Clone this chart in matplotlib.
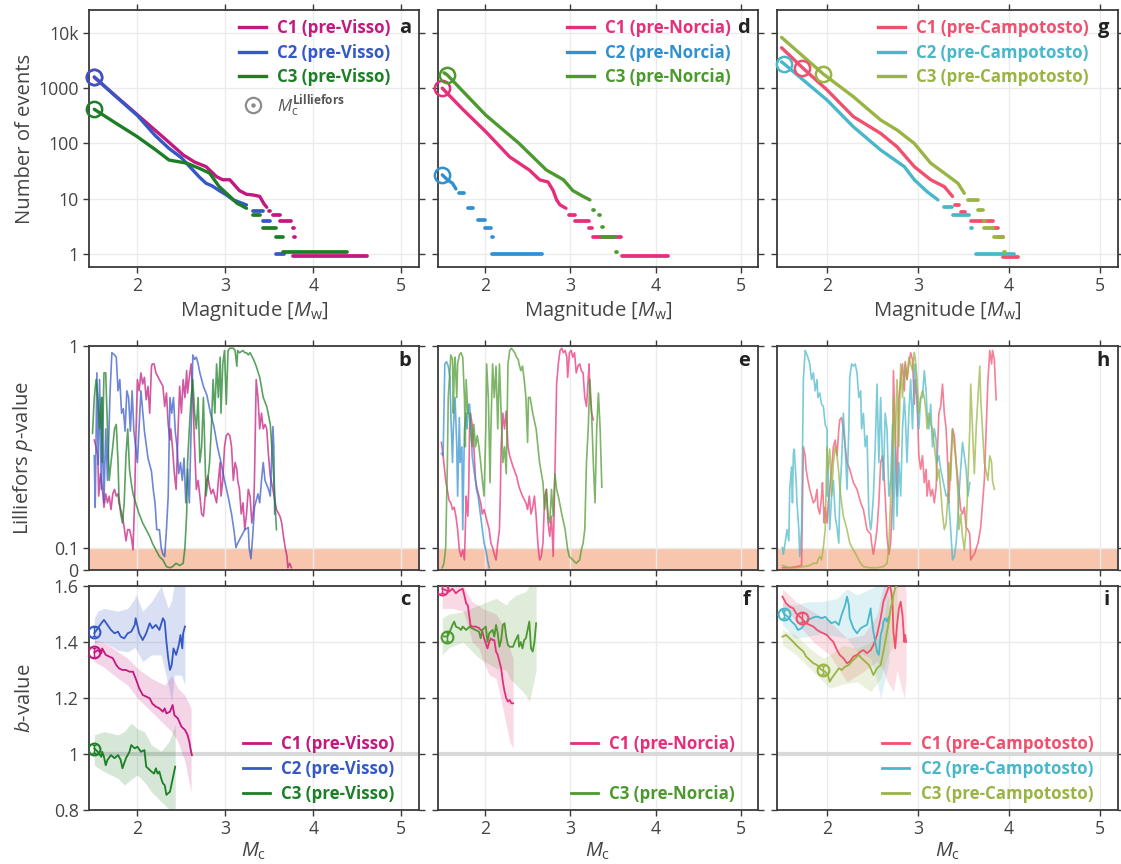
import matplotlib

matplotlib.use("Agg")
import matplotlib.pyplot as plt
from matplotlib.lines import Line2D
from matplotlib.ticker import NullLocator

# ---------------- frequency-magnitude distributions (row 1) ----------------
# dense part of each curve: (magnitude, cumulative number of events)
visso_c1_fmd = [(1.51, 1570), (1.75, 730), (2.0, 330), (2.33, 115), (2.52, 62), (2.65, 46), (2.78, 38),
                (2.9, 25), (2.97, 22), (3.05, 22), (3.16, 14), (3.24, 12), (3.31, 11.7), (3.39, 11), (3.44, 8), (3.47, 7)]
visso_c2_fmd = [(1.51, 1600), (1.75, 720), (2.0, 320), (2.2, 140), (2.36, 81), (2.5, 55), (2.63, 33), (2.7, 25),
                (2.78, 19), (2.85, 17), (2.93, 14), (3.0, 12), (3.09, 9.5), (3.17, 8.5), (3.24, 7.7)]
visso_c3_fmd = [(1.51, 415), (1.76, 230), (2.0, 132), (2.21, 76), (2.36, 50), (2.56, 44), (2.71, 35), (2.82, 29),
                (2.93, 16.5), (3.05, 11), (3.13, 8.3), (3.24, 6.7)]
norcia_c1_fmd = [(1.50, 1000), (1.75, 400), (2.01, 163), (2.29, 57), (2.52, 33), (2.64, 22), (2.74, 20), (2.80, 14),
                 (2.84, 9.5), (2.88, 7.7), (2.95, 6.7)]
norcia_c2_fmd = [(1.50, 27), (1.56, 22), (1.62, 19), (1.66, 15)]
norcia_c3_fmd = [(1.52, 1900), (1.56, 1730), (1.75, 850), (2.01, 325), (2.40, 100), (2.72, 33), (2.92, 22), (3.03, 14),
                 (3.15, 11), (3.23, 9.5)]
campo_c1_fmd = [(1.50, 5400), (1.73, 2350), (2.0, 930), (2.29, 305), (2.59, 152), (2.77, 87), (2.96, 38), (3.14, 22),
                (3.29, 16.5), (3.38, 11)]
campo_c2_fmd = [(1.50, 3000), (1.53, 2740), (2.0, 610), (2.29, 200), (2.59, 76), (2.85, 38), (2.96, 22), (3.10, 13.4),
                (3.22, 9.5)]
campo_c3_fmd = [(1.50, 8300), (1.96, 1800), (2.29, 700), (2.59, 265), (2.77, 175), (2.96, 100), (3.14, 44), (3.29, 29),
                (3.44, 19), (3.51, 12.5)]

# sparse tail: (magnitude from, magnitude to, number of events)
visso_c1_tail = [(3.50, 3.51, 6), (3.54, 3.62, 5), (3.62, 3.75, 4), (3.77, 3.78, 3), (3.78, 3.79, 2), (3.77, 4.61, 0.9)]
visso_c2_tail = [(3.31, 3.43, 6), (3.43, 3.51, 4), (3.58, 3.67, 1)]
visso_c3_tail = [(3.31, 3.39, 5), (3.43, 3.58, 3), (3.58, 3.66, 2), (3.65, 4.38, 1.1)]
norcia_c1_tail = [(2.99, 3.06, 5), (3.06, 3.22, 4), (3.22, 3.26, 3), (3.27, 3.60, 2), (3.61, 4.14, 0.9)]
norcia_c2_tail = [(1.70, 1.76, 12.5), (1.80, 1.86, 6.7), (1.92, 2.00, 4.1), (2.00, 2.07, 3), (2.08, 2.09, 2),
                  (2.08, 2.67, 1)]
norcia_c3_tail = [(3.27, 3.28, 6.2), (3.34, 3.35, 5), (3.37, 3.38, 3.1), (3.37, 3.53, 2.05), (3.54, 3.55, 1.1)]
campo_c1_tail = [(3.41, 3.45, 7.7), (3.47, 3.52, 5.8), (3.58, 3.82, 4), (3.82, 3.88, 3), (3.88, 3.93, 2),
                 (3.94, 4.10, 0.87)]
campo_c2_tail = [(3.29, 3.37, 7.2), (3.38, 3.56, 5), (3.58, 3.59, 3), (3.60, 3.61, 2), (3.64, 4.06, 1)]
campo_c3_tail = [(3.55, 3.66, 9.5), (3.66, 3.72, 6.2), (3.73, 3.74, 4), (3.73, 3.82, 3), (3.84, 3.93, 2),
                 (3.95, 3.96, 1.1)]

# completeness magnitude (Lilliefors) per cluster C1, C2, C3
visso_mc = [1.51, 1.51, 1.51]
visso_mc_n = [1570, 1600, 415]
norcia_mc = [1.50, 1.50, 1.56]
norcia_mc_n = [1000, 27, 1730]
campo_mc = [1.73, 1.53, 1.96]
campo_mc_n = [2350, 2740, 1800]

# ---------------- Lilliefors p-value vs Mc (row 2) ----------------
visso_c1_pm = [1.51, 1.53, 1.55, 1.56, 1.58, 1.60, 1.62, 1.64, 1.66, 1.68, 1.70, 1.72, 1.74, 1.76, 1.78, 1.79, 1.81,
               1.83, 1.85, 1.87, 1.89, 1.91, 1.93, 1.95, 1.97, 1.98, 2.00, 2.02, 2.04, 2.06, 2.08, 2.10, 2.12, 2.14,
               2.16, 2.17, 2.19, 2.21, 2.25, 2.29, 2.31, 2.33, 2.35, 2.37, 2.38, 2.40, 2.42, 2.44, 2.46, 2.48, 2.50,
               2.52, 2.54, 2.56, 2.57, 2.59, 2.61, 2.63, 2.65, 2.67, 2.69, 2.71, 2.73, 2.75, 2.76, 2.78, 2.80, 2.82,
               2.84, 2.86, 2.88, 2.90, 2.92, 2.94, 2.95, 2.97, 2.99, 3.01, 3.03, 3.05, 3.07, 3.09, 3.11, 3.13, 3.14,
               3.16, 3.18, 3.20, 3.22, 3.24, 3.26, 3.28, 3.30, 3.32, 3.33, 3.35, 3.37, 3.39, 3.41, 3.43, 3.45, 3.47,
               3.49, 3.51, 3.54, 3.58, 3.62, 3.64, 3.66, 3.68, 3.70, 3.71, 3.73, 3.75]
visso_c1_pv = [.58, .55, .51, .33, .43, .37, .28, .34, .30, .33, .27, .34, .36, .33, .34, .30, .27, .24, .19, .13, .18,
               .18, .15, .09, .33, .55, .85, .80, .88, .83, .86, .76, .82, .70, .91, .92, .92, .88, .85, .82, .73, .79,
               .65, .58, .63, .54, .43, .36, .60, .82, .70, .85, .77, .89, .79, .86, .92, .77, .55, .36, .40, .33, .25,
               .24, .28, .39, .42, .37, .34, .36, .33, .30, .40, .48, .33, .40, .55, .60, .61, .60, .55, .40, .48, .45,
               .40, .36, .25, .30, .18, .25, .36, .33, .21, .27, .40, .85, .77, .63, .70, .63, .65, .63, .51, .42, .36,
               .27, .24, .21, .15, .10, .06, .01, .03, .01]
visso_c2_pm = [1.51, 1.52, 1.54, 1.555, 1.57, 1.59, 1.60, 1.62, 1.64, 1.66, 1.69, 1.71, 1.74, 1.76, 1.78, 1.80, 1.82,
               1.84, 1.86, 1.88, 1.90, 1.92, 1.94, 1.96, 1.98, 2.00, 2.04, 2.08, 2.12, 2.16, 2.18, 2.20, 2.22, 2.25,
               2.27, 2.29, 2.31, 2.33, 2.35, 2.37, 2.39, 2.41, 2.43, 2.45, 2.47, 2.49, 2.51, 2.53, 2.55, 2.57, 2.59,
               2.61, 2.63, 2.65, 2.67, 2.69, 2.71, 2.75, 2.79, 2.83, 2.87, 2.91, 2.95, 2.99, 3.03, 3.07, 3.10, 3.12,
               3.14, 3.18, 3.22, 3.26, 3.27, 3.29, 3.31, 3.33, 3.37, 3.39, 3.41, 3.43, 3.45, 3.49, 3.51, 3.53, 3.54,
               3.55, 3.56]
visso_c2_pv = [.51, .28, .88, .47, .85, .36, .77, .30, .63, .40, .80, .97, .96, .95, .80, .85, .70, .72, .62, .80, .77,
               .62, .80, .62, .55, .48, .80, .62, .50, .44, .36, .30, .18, .18, .10, .07, .06, .18, .33, .77, .70, .77,
               .62, .55, .43, .48, .40, .50, .30, .45, .30, .62, .96, .94, .95, .92, .88, .82, .78, .70, .64, .55, .48,
               .40, .33, .25, .17, .10, .12, .15, .18, .19, .10, .05, .15, .28, .34, .30, .40, .48, .40, .36, .33, .55,
               .64, .55, .25]
visso_c3_pm = [1.49, 1.51, 1.53, 1.55, 1.57, 1.59, 1.60, 1.62, 1.64, 1.66, 1.68, 1.70, 1.72, 1.74, 1.76, 1.78, 1.79,
               1.81, 1.83, 1.85, 1.87, 1.89, 1.91, 1.93, 1.95, 1.98, 2.02, 2.06, 2.10, 2.14, 2.17, 2.21, 2.25, 2.29,
               2.33, 2.37, 2.40, 2.44, 2.48, 2.52, 2.54, 2.56, 2.57, 2.59, 2.61, 2.63, 2.65, 2.67, 2.69, 2.71, 2.73,
               2.75, 2.76, 2.78, 2.80, 2.82, 2.84, 2.86, 2.88, 2.90, 2.92, 2.94, 2.95, 2.97, 2.99, 3.01, 3.03, 3.05,
               3.09, 3.11, 3.13, 3.14, 3.16, 3.20, 3.22, 3.24, 3.26, 3.28, 3.32, 3.35, 3.39, 3.43, 3.47, 3.51, 3.54,
               3.56, 3.58]
visso_c3_pv = [.61, .77, .85, .77, .63, .77, .48, .88, .88, .63, .40, .48, .55, .63, .65, .48, .33, .25, .21, .30, .51,
               .63, .45, .39, .34, .30, .25, .21, .18, .15, .12, .09, .06, .045, .015, .01, .015, .03, .02, .03, .10,
               .25, .48, .63, .77, .85, .70, .63, .77, .48, .55, .77, .63, .33, .40, .48, .63, .85, .70, .92, .77, .95,
               .70, .92, .98, .74, .98, .99, .99, .98, .91, .98, .97, .98, .97, .97, .96, .97, .94, .91, .86, .77, .73,
               .65, .48, .33, .18]

norcia_c1_pm = [1.49, 1.51, 1.54, 1.58, 1.60, 1.62, 1.64, 1.66, 1.68, 1.70, 1.72, 1.74, 1.76, 1.77, 1.78, 1.785, 1.80,
                1.81, 1.82, 1.83, 1.85, 1.87, 1.89, 1.91, 1.93, 1.95, 1.97, 1.99, 2.01, 2.03, 2.05, 2.07, 2.09, 2.11,
                2.13, 2.15, 2.17, 2.18, 2.19, 2.21, 2.23, 2.25, 2.27, 2.29, 2.33, 2.37, 2.40, 2.44, 2.48, 2.50, 2.52,
                2.54, 2.56, 2.58, 2.60, 2.62, 2.64, 2.66, 2.68, 2.70, 2.72, 2.74, 2.76, 2.78, 2.80, 2.82, 2.84, 2.86,
                2.88, 2.90, 2.92, 2.94, 2.96, 2.97, 2.99, 3.01, 3.03, 3.05, 3.07, 3.09, 3.11, 3.13, 3.15, 3.17, 3.19,
                3.21, 3.22, 3.23, 3.25, 3.27]
norcia_c1_pv = [.57, .51, .40, .31, .30, .27, .28, .24, .18, .09, .06, .09, .045, .18, .33, .30, .24, .36, .63, .70,
                .65, .55, .40, .36, .33, .30, .25, .27, .24, .21, .18, .12, .10, .07, .045, .12, .18, .33, .55, .70,
                .63, .71, .55, .51, .46, .42, .37, .33, .30, .27, .33, .25, .28, .33, .24, .12, .045, .06, .12, .33,
                .36, .21, .15, .24, .06, .43, .83, .92, .98, .99, .97, .98, .95, .86, .97, .98, .95, .97, .88, .91,
                .92, .89, .88, .77, .73, .85, .92, .80, .70, .67]
norcia_c2_pm = [1.49, 1.51, 1.53, 1.55, 1.57, 1.59, 1.60, 1.62, 1.63, 1.65, 1.67, 1.68, 1.70, 1.71, 1.73, 1.74, 1.76,
                1.78, 1.79, 1.81, 1.82, 1.84, 1.85, 1.87, 1.89, 1.90, 1.92, 1.93, 1.95, 1.97, 1.99, 2.01, 2.03, 2.05]
norcia_c2_pv = [.52, .51, .92, .93, .91, .86, .70, .48, .63, .77, .55, .33, .68, .48, .55, .18, .63, .70, .63, .74,
                .74, .63, .51, .45, .40, .36, .33, .30, .24, .18, .12, .09, .045, .01]
norcia_c3_pm = [1.50, 1.52, 1.54, 1.56, 1.57, 1.59, 1.60, 1.62, 1.63, 1.64, 1.65, 1.67, 1.68, 1.70, 1.72, 1.74, 1.76,
                1.77, 1.78, 1.80, 1.82, 1.83, 1.85, 1.87, 1.89, 1.91, 1.93, 1.95, 1.97, 1.99, 2.01, 2.02, 2.04, 2.06,
                2.07, 2.09, 2.11, 2.13, 2.15, 2.17, 2.19, 2.21, 2.23, 2.25, 2.27, 2.29, 2.31, 2.33, 2.35, 2.37, 2.39,
                2.40, 2.42, 2.44, 2.46, 2.48, 2.50, 2.51, 2.53, 2.56, 2.60, 2.64, 2.68, 2.70, 2.72, 2.74, 2.76, 2.78,
                2.80, 2.82, 2.84, 2.86, 2.90, 2.94, 2.97, 2.99, 3.03, 3.07, 3.11, 3.13, 3.15, 3.17, 3.19, 3.21, 3.23,
                3.25, 3.27, 3.29, 3.31, 3.33, 3.35, 3.37]
norcia_c3_pv = [.01, .03, .10, .48, .77, .89, .96, .94, .70, .89, .95, .77, .92, .96, .97, .95, .77, .55, .85, .70,
                .70, .63, .55, .65, .55, .60, .55, .48, .40, .33, .63, .92, .77, .39, .63, .92, .77, .91, .63, .92,
                .70, .48, .55, .43, .92, .98, .99, .98, .97, .95, .94, .92, .89, .91, .85, .77, .57, .77, .77, .70,
                .63, .48, .39, .27, .36, .24, .21, .36, .24, .43, .36, .33, .25, .18, .09, .06, .045, .03, .045, .09,
                .12, .18, .48, .63, .85, .70, .48, .30, .63, .79, .63, .37]

campo_c1_pm = [1.51, 1.59, 1.66, 1.72, 1.74, 1.76, 1.77, 1.79, 1.81, 1.83, 1.85, 1.87, 1.89, 1.90, 1.92, 1.94, 1.95,
               1.97, 1.98, 2.00, 2.01, 2.03, 2.05, 2.07, 2.09, 2.11, 2.13, 2.14, 2.16, 2.18, 2.20, 2.22, 2.25, 2.29,
               2.33, 2.35, 2.37, 2.40, 2.44, 2.48, 2.49, 2.51, 2.53, 2.55, 2.57, 2.59, 2.61, 2.62, 2.64, 2.66, 2.68,
               2.70, 2.72, 2.73, 2.75, 2.77, 2.79, 2.81, 2.83, 2.85, 2.86, 2.88, 2.90, 2.92, 2.94, 2.96, 2.97, 2.99,
               3.01, 3.03, 3.05, 3.07, 3.09, 3.10, 3.12, 3.14, 3.16, 3.18, 3.20, 3.21, 3.23, 3.25, 3.27, 3.29, 3.31,
               3.33, 3.34, 3.36, 3.38, 3.40, 3.42, 3.44, 3.45, 3.47, 3.49, 3.51, 3.53, 3.55, 3.57, 3.58, 3.60, 3.62,
               3.66, 3.69, 3.73, 3.77, 3.79, 3.81, 3.82, 3.84, 3.86]
campo_c1_pv = [.01, .01, .015, .02, .55, .51, .45, .40, .36, .33, .30, .31, .36, .28, .25, .33, .39, .21, .28, .21,
               .27, .36, .45, .55, .58, .51, .63, .67, .68, .63, .55, .48, .45, .39, .36, .33, .30, .27, .18, .16,
               .12, .07, .12, .18, .30, .48, .51, .48, .33, .15, .07, .12, .33, .89, .63, .33, .77, .85, .92, .80,
               .93, .85, .92, .97, .94, .74, .85, .77, .51, .45, .51, .39, .45, .33, .40, .33, .36, .30, .37, .48,
               .70, .73, .83, .70, .63, .45, .30, .48, .63, .60, .48, .40, .36, .27, .25, .28, .19, .18, .16, .045,
               .06, .07, .12, .19, .40, .85, .98, .92, .98, .94, .76]
campo_c2_pm = [1.51, 1.52, 1.55, 1.56, 1.58, 1.59, 1.61, 1.62, 1.63, 1.64, 1.66, 1.67, 1.69, 1.70, 1.72, 1.74, 1.76,
               1.77, 1.79, 1.81, 1.83, 1.85, 1.87, 1.89, 1.90, 1.92, 1.94, 1.96, 1.98, 2.00, 2.005, 2.01, 2.03, 2.05,
               2.07, 2.09, 2.11, 2.13, 2.14, 2.16, 2.18, 2.20, 2.22, 2.24, 2.25, 2.27, 2.29, 2.31, 2.33, 2.35, 2.37,
               2.38, 2.40, 2.42, 2.44, 2.46, 2.48, 2.49, 2.51, 2.53, 2.55, 2.57, 2.59, 2.61, 2.62, 2.64, 2.66, 2.68,
               2.70, 2.72, 2.73, 2.75, 2.77, 2.79, 2.81, 2.83, 2.85, 2.86, 2.88, 2.90, 2.92, 2.94, 2.96, 2.97, 2.99,
               3.01, 3.03, 3.05, 3.07, 3.09, 3.10, 3.12, 3.14, 3.16, 3.18, 3.20, 3.21, 3.23, 3.25, 3.29, 3.31, 3.33,
               3.34, 3.36, 3.38, 3.40, 3.42, 3.44, 3.45, 3.47, 3.49, 3.51, 3.53, 3.55, 3.57]
campo_c2_pv = [.10, .07, .15, .18, .13, .36, .46, .30, .52, .54, .40, .30, .18, .06, .18, .85, .98, .97, .95, .92,
               .85, .88, .80, .85, .77, .79, .74, .73, .65, .63, .33, .48, .18, .33, .40, .24, .19, .12, .33, .48,
               .70, .55, .36, .63, .86, .92, .91, .92, .88, .77, .80, .63, .70, .55, .60, .25, .18, .21, .33, .55,
               .83, .48, .77, .48, .40, .70, .63, .33, .40, .65, .18, .55, .24, .48, .33, .63, .77, .70, .48, .70,
               .85, .63, .89, .92, .74, .63, .77, .77, .89, .80, .70, .63, .74, .55, .63, .58, .48, .51, .45, .37,
               .33, .34, .30, .18, .045, .06, .12, .24, .33, .45, .57, .51, .45, .33, .39]
campo_c3_pm = [1.51, 1.55, 1.59, 1.66, 1.74, 1.81, 1.85, 1.89, 1.90, 1.92, 1.94, 1.96, 1.98, 2.00, 2.01, 2.03, 2.05,
               2.07, 2.09, 2.11, 2.13, 2.14, 2.16, 2.18, 2.22, 2.25, 2.29, 2.33, 2.37, 2.40, 2.48, 2.55, 2.62, 2.66,
               2.68, 2.70, 2.72, 2.73, 2.75, 2.77, 2.79, 2.81, 2.83, 2.85, 2.86, 2.88, 2.90, 2.92, 2.94, 2.96, 2.97,
               2.99, 3.01, 3.03, 3.05, 3.07, 3.09, 3.10, 3.12, 3.14, 3.16, 3.18, 3.20, 3.21, 3.23, 3.25, 3.27, 3.29,
               3.31, 3.33, 3.34, 3.36, 3.38, 3.40, 3.42, 3.44, 3.45, 3.47, 3.49, 3.51, 3.53, 3.55, 3.57, 3.58, 3.60,
               3.62, 3.64, 3.66, 3.68, 3.69, 3.73, 3.77, 3.79, 3.81, 3.82, 3.84]
campo_c3_pv = [.02, .015, .01, .01, .015, .02, .03, .03, .045, .06, .045, .10, .18, .55, .45, .54, .33, .48, .55, .51,
               .43, .37, .30, .24, .18, .12, .09, .06, .03, .015, .01, .01, .015, .03, .10, .33, .48, .77, .55, .85,
               .55, .92, .77, .89, .92, .85, .95, .92, .89, .97, .95, .85, .70, .77, .80, .77, .70, .63, .70, .65,
               .63, .55, .48, .40, .45, .36, .25, .18, .21, .33, .48, .40, .63, .55, .48, .33, .18, .25, .15, .09,
               .18, .40, .63, .83, .63, .43, .63, .77, .91, .77, .48, .40, .51, .48, .40, .36]

# ---------------- b-value vs Mc (row 3) ----------------
visso_c1_bm = [1.51, 1.55, 1.59, 1.60, 1.64, 1.68, 1.72, 1.76, 1.79, 1.83, 1.87, 1.91, 1.95, 1.98, 2.02, 2.06, 2.10,
               2.14, 2.17, 2.21, 2.25, 2.29, 2.31, 2.33, 2.37, 2.40, 2.42, 2.46, 2.50, 2.54, 2.57, 2.59, 2.61, 2.62]
visso_c1_bv = [1.363, 1.371, 1.36, 1.377, 1.354, 1.348, 1.342, 1.318, 1.306, 1.30, 1.30, 1.294, 1.294, 1.27, 1.235,
               1.211, 1.205, 1.199, 1.18, 1.169, 1.163, 1.151, 1.163, 1.145, 1.151, 1.175, 1.139, 1.127, 1.098, 1.086,
               1.068, 1.044, 1.008, 0.996]
visso_c2_bm = [1.51, 1.55, 1.59, 1.62, 1.66, 1.70, 1.74, 1.78, 1.81, 1.85, 1.89, 1.93, 1.97, 1.98, 2.02, 2.06, 2.10,
               2.14, 2.17, 2.21, 2.25, 2.29, 2.31, 2.33, 2.35, 2.37, 2.39, 2.41, 2.44, 2.47, 2.49, 2.51, 2.52, 2.54]
visso_c2_bv = [1.431, 1.449, 1.467, 1.479, 1.461, 1.443, 1.431, 1.437, 1.419, 1.413, 1.431, 1.437, 1.461, 1.485,
               1.431, 1.407, 1.431, 1.467, 1.449, 1.461, 1.443, 1.485, 1.473, 1.40, 1.342, 1.30, 1.318, 1.377, 1.354,
               1.389, 1.425, 1.377, 1.431, 1.455]
visso_c3_bm = [1.51, 1.55, 1.59, 1.60, 1.62, 1.64, 1.66, 1.70, 1.74, 1.78, 1.81, 1.83, 1.87, 1.91, 1.93, 1.97, 2.00,
               2.04, 2.08, 2.10, 2.12, 2.16, 2.19, 2.21, 2.23, 2.25, 2.27, 2.29, 2.31, 2.33, 2.35, 2.37, 2.39, 2.41,
               2.43]
visso_c3_bv = [1.02, 1.008, 0.99, 1.008, 0.99, 0.96, 0.979, 0.996, 0.985, 0.996, 0.979, 0.949, 0.985, 1.008, 1.032,
               1.02, 1.026, 1.008, 1.014, 0.955, 0.949, 0.937, 0.93, 0.949, 0.93, 0.937, 0.913, 0.895, 0.889, 0.854,
               0.86, 0.865, 0.895, 0.925, 0.955]
norcia_c1_bm = [1.50, 1.54, 1.58, 1.62, 1.66, 1.70, 1.74, 1.76, 1.78, 1.80, 1.82, 1.83, 1.85, 1.89, 1.93, 1.97, 1.99,
                2.01, 2.03, 2.05, 2.07, 2.09, 2.11, 2.13, 2.15, 2.17, 2.19, 2.21, 2.23, 2.25, 2.27, 2.29, 2.31, 2.33]
norcia_c1_bv = [1.59, 1.585, 1.58, 1.59, 1.574, 1.585, 1.59, 1.565, 1.538, 1.53, 1.485, 1.46, 1.455, 1.455, 1.45,
                1.437, 1.413, 1.395, 1.377, 1.40, 1.413, 1.407, 1.407, 1.366, 1.354, 1.33, 1.306, 1.258, 1.223, 1.199,
                1.187, 1.193, 1.181, 1.181]
norcia_c3_bm = [1.52, 1.56, 1.58, 1.62, 1.64, 1.66, 1.70, 1.72, 1.74, 1.78, 1.82, 1.85, 1.89, 1.93, 1.95, 1.97, 2.01,
                2.03, 2.05, 2.09, 2.11, 2.13, 2.15, 2.17, 2.19, 2.21, 2.23, 2.25, 2.27, 2.29, 2.33, 2.35, 2.37, 2.39,
                2.40, 2.42, 2.44, 2.46, 2.48, 2.50, 2.52, 2.54, 2.56, 2.58, 2.60]
norcia_c3_bv = [1.42, 1.419, 1.431, 1.461, 1.473, 1.455, 1.449, 1.443, 1.455, 1.443, 1.455, 1.449, 1.443, 1.437,
                1.413, 1.443, 1.455, 1.40, 1.431, 1.443, 1.419, 1.461, 1.431, 1.383, 1.407, 1.461, 1.467, 1.419, 1.389,
                1.383, 1.383, 1.40, 1.413, 1.425, 1.383, 1.40, 1.377, 1.407, 1.413, 1.443, 1.473, 1.377, 1.366, 1.40,
                1.467]
campo_c1_bm = [1.51, 1.55, 1.59, 1.63, 1.66, 1.72, 1.77, 1.81, 1.85, 1.89, 1.92, 1.96, 2.00, 2.03, 2.07, 2.11, 2.14,
               2.18, 2.22, 2.25, 2.29, 2.33, 2.37, 2.40, 2.44, 2.48, 2.51, 2.55, 2.59, 2.62, 2.66, 2.68, 2.70, 2.72,
               2.73, 2.75, 2.77, 2.79, 2.81, 2.83, 2.85, 2.86, 2.87]
campo_c1_bv = [1.562, 1.538, 1.526, 1.52, 1.502, 1.485, 1.467, 1.461, 1.455, 1.443, 1.437, 1.431, 1.425, 1.413, 1.40,
               1.371, 1.354, 1.342, 1.324, 1.33, 1.348, 1.354, 1.366, 1.371, 1.36, 1.371, 1.389, 1.425, 1.485, 1.544,
               1.58, 1.60, 1.592, 1.544, 1.437, 1.377, 1.461, 1.52, 1.544, 1.496, 1.40, 1.425, 1.40]
campo_c2_bm = [1.51, 1.53, 1.57, 1.61, 1.65, 1.68, 1.72, 1.76, 1.79, 1.83, 1.87, 1.90, 1.94, 1.98, 2.01, 2.05, 2.09,
               2.13, 2.16, 2.20, 2.22, 2.24, 2.25, 2.29, 2.33, 2.37, 2.40, 2.44, 2.48, 2.49, 2.51, 2.53, 2.55, 2.57,
               2.59, 2.61, 2.62, 2.64, 2.66, 2.68]
campo_c2_bv = [1.51, 1.499, 1.49, 1.473, 1.461, 1.443, 1.449, 1.467, 1.479, 1.485, 1.49, 1.49, 1.485, 1.49, 1.479,
               1.467, 1.473, 1.461, 1.496, 1.532, 1.562, 1.532, 1.485, 1.449, 1.431, 1.449, 1.455, 1.461, 1.52, 1.485,
               1.437, 1.40, 1.366, 1.354, 1.425, 1.449, 1.473, 1.485, 1.473, 1.49]
campo_c3_bm = [1.51, 1.55, 1.59, 1.63, 1.66, 1.70, 1.74, 1.77, 1.81, 1.85, 1.89, 1.94, 1.98, 2.01, 2.03, 2.05, 2.09,
               2.13, 2.16, 2.20, 2.24, 2.27, 2.31, 2.35, 2.38, 2.42, 2.46, 2.48, 2.51, 2.53, 2.55, 2.59, 2.62, 2.64,
               2.66, 2.68, 2.70, 2.72, 2.73, 2.75, 2.77]
campo_c3_bv = [1.419, 1.425, 1.413, 1.40, 1.389, 1.377, 1.366, 1.348, 1.336, 1.324, 1.318, 1.30, 1.294, 1.282, 1.258,
               1.27, 1.288, 1.306, 1.30, 1.312, 1.318, 1.33, 1.342, 1.354, 1.342, 1.33, 1.318, 1.306, 1.282, 1.294,
               1.306, 1.318, 1.366, 1.40, 1.437, 1.473, 1.52, 1.544, 1.568, 1.592, 1.604]

# uncertainty bands: magnitude, lower, upper
visso_c1_band_m = [1.51, 1.62, 1.78, 1.89, 2.00, 2.16, 2.31, 2.39, 2.46, 2.54, 2.61]
visso_c1_band_lo = [1.33, 1.31, 1.27, 1.246, 1.199, 1.151, 1.104, 1.08, 1.044, 0.973, 0.865]
visso_c1_band_hi = [1.407, 1.40, 1.365, 1.342, 1.306, 1.27, 1.246, 1.28, 1.235, 1.21, 1.163]
visso_c2_band_m = [1.51, 1.55, 1.62, 1.78, 1.89, 1.97, 1.98, 2.06, 2.16, 2.27, 2.35, 2.39, 2.42, 2.50, 2.54]
visso_c2_band_lo = [1.395, 1.40, 1.40, 1.37, 1.365, 1.38, 1.377, 1.33, 1.354, 1.354, 1.246, 1.187, 1.282, 1.282, 1.246]
visso_c2_band_hi = [1.485, 1.51, 1.52, 1.51, 1.52, 1.556, 1.57, 1.51, 1.544, 1.60, 1.52, 1.55, 1.61, 1.61, 1.61]
visso_c3_band_m = [1.51, 1.62, 1.78, 1.85, 1.93, 2.00, 2.08, 2.16, 2.27, 2.35, 2.39, 2.43]
visso_c3_band_lo = [0.96, 0.937, 0.913, 0.889, 0.91, 0.925, 0.90, 0.865, 0.83, 0.806, 0.80, 0.80]
visso_c3_band_hi = [1.068, 1.08, 1.068, 1.08, 1.11, 1.09, 1.08, 1.032, 1.01, 1.04, 1.068, 1.104]
norcia_c1_band_m = [1.50, 1.62, 1.74, 1.78, 1.85, 1.93, 1.97, 2.05, 2.13, 2.21, 2.29, 2.33]
norcia_c1_band_lo = [1.52, 1.52, 1.51, 1.48, 1.40, 1.377, 1.34, 1.282, 1.27, 1.163, 1.044, 1.02]
norcia_c1_band_hi = [1.61, 1.61, 1.61, 1.58, 1.544, 1.53, 1.52, 1.51, 1.50, 1.46, 1.377, 1.342]
norcia_c3_band_m = [1.50, 1.58, 1.74, 1.93, 2.13, 2.25, 2.29, 2.37, 2.48, 2.52, 2.56, 2.60]
norcia_c3_band_lo = [1.354, 1.38, 1.40, 1.342, 1.306, 1.30, 1.27, 1.246, 1.21, 1.187, 1.24, 1.30]
norcia_c3_band_hi = [1.485, 1.50, 1.508, 1.532, 1.556, 1.532, 1.55, 1.568, 1.58, 1.60, 1.61, 1.61]
campo_c1_band_m = [1.51, 1.66, 1.85, 2.03, 2.22, 2.40, 2.55, 2.62, 2.66, 2.73, 2.77, 2.85, 2.87]
campo_c1_band_lo = [1.532, 1.473, 1.40, 1.354, 1.258, 1.294, 1.33, 1.30, 1.26, 1.223, 1.30, 1.199, 1.28]
campo_c1_band_hi = [1.59, 1.544, 1.508, 1.473, 1.413, 1.425, 1.496, 1.60, 1.61, 1.61, 1.61, 1.61, 1.58]
campo_c2_band_m = [1.51, 1.65, 1.79, 1.94, 2.11, 2.22, 2.33, 2.48, 2.55, 2.59, 2.68]
campo_c2_band_lo = [1.461, 1.413, 1.42, 1.43, 1.42, 1.413, 1.366, 1.342, 1.258, 1.199, 1.33]
campo_c2_band_hi = [1.54, 1.532, 1.544, 1.544, 1.556, 1.59, 1.568, 1.59, 1.60, 1.61, 1.61]
campo_c3_band_m = [1.51, 1.66, 1.81, 1.96, 2.03, 2.18, 2.33, 2.48, 2.59, 2.66, 2.77]
campo_c3_band_lo = [1.389, 1.354, 1.306, 1.258, 1.235, 1.25, 1.258, 1.223, 1.27, 1.342, 1.42]
campo_c3_band_hi = [1.443, 1.425, 1.377, 1.342, 1.354, 1.389, 1.377, 1.40, 1.42, 1.55, 1.61]

# b-value at Mc (circle markers) and its uncertainty
visso_mc_b = [1.363, 1.437, 1.018]
norcia_mc_b = [1.59, None, 1.419]
campo_mc_b = [1.487, 1.499, 1.30]
mc_b_err = [0.015, 0.015, 0.015]

visso_colors = ["#c2187f", "#3558c6", "#1c7f26"]
norcia_colors = ["#e62e7b", "#3190d0", "#4c992e"]
campo_colors = ["#f0506d", "#49b7ca", "#98b443"]

visso_labels = ["C1 (pre-Visso)", "C2 (pre-Visso)", "C3 (pre-Visso)"]
norcia_labels = ["C1 (pre-Norcia)", "C2 (pre-Norcia)", "C3 (pre-Norcia)"]
campo_labels = ["C1 (pre-Campotosto)", "C2 (pre-Campotosto)", "C3 (pre-Campotosto)"]

plt.rcParams.update({
    "font.family": ["Open Sans", "DejaVu Sans"],
    "mathtext.fontset": "custom",
    "mathtext.rm": "Open Sans",
    "mathtext.it": "Open Sans:italic",
    "mathtext.bf": "Open Sans:bold",
    "axes.edgecolor": "#3a3a3a",
    "axes.linewidth": 1.3,
    "xtick.color": "#3a3a3a",
    "ytick.color": "#3a3a3a",
    "xtick.labelcolor": "#444444",
    "ytick.labelcolor": "#444444",
    "axes.labelcolor": "#444444",
})

W, H = 1121, 864
COL_X = [(89, 419), (438, 758), (777, 1118)]
ROW_Y = [(10, 267), (346, 570), (586, 810)]
GRID = "#ebebeb"
TICK_SIZE = 12.8
LABEL_SIZE = 14.6
LEGEND_PROP = {"weight": "bold", "size": 12.2}


def make_axes(fig, col, row):
    x0, x1 = COL_X[col]
    y0, y1 = ROW_Y[row]
    ax = fig.add_axes([x0 / W, 1 - y1 / H, (x1 - x0) / W, (y1 - y0) / H])
    ax.set_xlim(1.45, 5.2)
    ax.set_xticks([2, 3, 4, 5])
    ax.xaxis.set_minor_locator(NullLocator())
    ax.tick_params(which="both", direction="out", top=True, right=True, length=4.5, width=1.0,
                   labelsize=TICK_SIZE, pad=3)
    ax.grid(True, color=GRID, lw=1)
    ax.set_axisbelow(True)
    if row == 1:
        ax.tick_params(labelbottom=False)
    if col > 0:
        ax.tick_params(labelleft=False)
    return ax


def panel_letter(ax, letter, y):
    ax.text(0.975, y, letter, transform=ax.transAxes, ha="right", va="baseline",
            fontsize=14.5, fontweight="bold", color="#222222")


def color_legend(leg, colors):
    for text, c in zip(leg.get_texts(), colors):
        text.set_color(c)


def draw_fmd(ax, fmds, tails, mcs, mc_ns, colors, labels, letter, first):
    for fmd, tail, c in zip(fmds, tails, colors):
        m, n = zip(*fmd)
        ax.plot(m, n, color=c, lw=2.4, solid_capstyle="round", solid_joinstyle="round", zorder=3)
        for m0, m1, cnt in tail:
            ax.plot([m0, m1], [cnt, cnt], color=c, lw=2.7, solid_capstyle="round", zorder=3)
    for mc, n, c in zip(mcs, mc_ns, colors):
        ax.plot([mc], [n], ls="none", marker="o", ms=11, mfc="none", mec=c, mew=1.8, zorder=5, clip_on=False)
    ax.set_yscale("log")
    ax.set_ylim(0.58, 26000)
    ax.set_yticks([1, 10, 100, 1000, 10000], ["1", "10", "100", "1000", "10k"])
    ax.yaxis.set_minor_locator(NullLocator())
    ax.set_xlabel(r"Magnitude [$M_\mathrm{w}$]", fontsize=LABEL_SIZE)
    ax.xaxis.set_label_coords(0.5, -0.125)
    handles = [Line2D([], [], color=c, lw=2.4) for c in colors]
    leg_labels = list(labels)
    leg_colors = list(colors)
    if first:
        ring = Line2D([], [], ls="none", marker="o", ms=11, mfc="none", mec="#8c8c8c", mew=1.6)
        dot = Line2D([], [], ls="none", marker="o", ms=2.2, color="#8c8c8c")
        handles.append((ring, dot))
        leg_labels.append(r"$M_\mathrm{c}^{\mathbf{Lilliefors}}$")
        leg_colors.append("#555555")
        ax.set_ylabel("Number of events", fontsize=LABEL_SIZE)
        ax.yaxis.set_label_coords(-0.165, 0.5)
    leg = ax.legend(handles, leg_labels, loc="upper right", bbox_to_anchor=(0.925, 0.979), frameon=False,
                    prop=LEGEND_PROP, handlelength=1.6, handletextpad=0.65,
                    labelspacing=0.4, borderpad=0.2, borderaxespad=0, numpoints=1)
    color_legend(leg, leg_colors)
    panel_letter(ax, letter, 0.912)


def draw_pvalue(ax, series, colors, letter, first):
    ax.axhspan(0, 0.1, color="#f8c6ad", lw=0, zorder=0)
    for (m, p), c in zip(series, colors):
        pairs = list(zip(m, p, strict=True))
        ax.plot([q[0] for q in pairs], [q[1] for q in pairs], color=c, lw=1.2, alpha=0.72, zorder=3)
    ax.set_ylim(0, 1)
    ax.set_yticks([0, 0.1, 1], ["0", "0.1", "1"])
    if first:
        ax.set_ylabel(r"Lilliefors $p$-value", fontsize=LABEL_SIZE)
        ax.yaxis.set_label_coords(-0.165, 0.5)
    panel_letter(ax, letter, 0.91)


def draw_bvalue(ax, series, bands, mcs, mc_bs, colors, labels, letter, first, legend_x):
    ax.axhline(1.0, color="#d9d9d9", lw=3, zorder=1)
    handles, leg_labels, leg_colors = [], [], []
    for i, c in enumerate(colors):
        if series[i] is None:
            handles.append(Line2D([], [], alpha=0))
            leg_labels.append(" ")
            leg_colors.append("white")
            continue
        bm, blo, bhi = bands[i]
        ax.fill_between(bm, blo, bhi, color=c, alpha=0.18, lw=0, zorder=2)
        m, b = series[i]
        pairs = list(zip(m, b, strict=True))
        ax.plot([q[0] for q in pairs], [q[1] for q in pairs], color=c, lw=1.3, zorder=3)
        ax.errorbar([mcs[i]], [mc_bs[i]], yerr=[mc_b_err[i]], fmt="none", ecolor=c, elinewidth=1.0,
                    capsize=1.5, zorder=4)
        ax.plot([mcs[i]], [mc_bs[i]], ls="none", marker="o", ms=8.5, mfc="none", mec=c, mew=1.5, zorder=5)
        handles.append(Line2D([], [], color=c, lw=2.0))
        leg_labels.append(labels[i])
        leg_colors.append(c)
    ax.set_ylim(0.8, 1.6)
    ax.set_yticks([0.8, 1.0, 1.2, 1.4, 1.6], ["0.8", "1", "1.2", "1.4", "1.6"])
    ax.set_xlabel(r"$M_\mathrm{c}$", fontsize=LABEL_SIZE)
    ax.xaxis.set_label_coords(0.5, -0.135)
    if first:
        ax.set_ylabel(r"$b$-value", fontsize=LABEL_SIZE)
        ax.yaxis.set_label_coords(-0.165, 0.5)
    leg = ax.legend(handles, leg_labels, loc="lower right", bbox_to_anchor=(legend_x, 0.017), frameon=False,
                    prop=LEGEND_PROP, handlelength=1.6, handletextpad=0.65,
                    labelspacing=0.4, borderpad=0.2, borderaxespad=0)
    color_legend(leg, leg_colors)
    panel_letter(ax, letter, 0.915)


fig = plt.figure(figsize=(W / 100, H / 100), dpi=100)

columns = [
    dict(fmds=[visso_c1_fmd, visso_c2_fmd, visso_c3_fmd], tails=[visso_c1_tail, visso_c2_tail, visso_c3_tail],
         mc=visso_mc, mc_n=visso_mc_n, mc_b=visso_mc_b, colors=visso_colors, labels=visso_labels,
         p=[(visso_c1_pm, visso_c1_pv), (visso_c2_pm, visso_c2_pv), (visso_c3_pm, visso_c3_pv)],
         b=[(visso_c1_bm, visso_c1_bv), (visso_c2_bm, visso_c2_bv), (visso_c3_bm, visso_c3_bv)],
         bands=[(visso_c1_band_m, visso_c1_band_lo, visso_c1_band_hi),
                (visso_c2_band_m, visso_c2_band_lo, visso_c2_band_hi),
                (visso_c3_band_m, visso_c3_band_lo, visso_c3_band_hi)],
         letters="abc"),
    dict(fmds=[norcia_c1_fmd, norcia_c2_fmd, norcia_c3_fmd], tails=[norcia_c1_tail, norcia_c2_tail, norcia_c3_tail],
         mc=norcia_mc, mc_n=norcia_mc_n, mc_b=norcia_mc_b, colors=norcia_colors, labels=norcia_labels,
         p=[(norcia_c1_pm, norcia_c1_pv), (norcia_c2_pm, norcia_c2_pv), (norcia_c3_pm, norcia_c3_pv)],
         b=[(norcia_c1_bm, norcia_c1_bv), None, (norcia_c3_bm, norcia_c3_bv)],
         bands=[(norcia_c1_band_m, norcia_c1_band_lo, norcia_c1_band_hi), None,
                (norcia_c3_band_m, norcia_c3_band_lo, norcia_c3_band_hi)],
         letters="def"),
    dict(fmds=[campo_c1_fmd, campo_c2_fmd, campo_c3_fmd], tails=[campo_c1_tail, campo_c2_tail, campo_c3_tail],
         mc=campo_mc, mc_n=campo_mc_n, mc_b=campo_mc_b, colors=campo_colors, labels=campo_labels,
         p=[(campo_c1_pm, campo_c1_pv), (campo_c2_pm, campo_c2_pv), (campo_c3_pm, campo_c3_pv)],
         b=[(campo_c1_bm, campo_c1_bv), (campo_c2_bm, campo_c2_bv), (campo_c3_bm, campo_c3_bv)],
         bands=[(campo_c1_band_m, campo_c1_band_lo, campo_c1_band_hi),
                (campo_c2_band_m, campo_c2_band_lo, campo_c2_band_hi),
                (campo_c3_band_m, campo_c3_band_lo, campo_c3_band_hi)],
         letters="ghi"),
]

for col, d in enumerate(columns):
    first = col == 0
    ax1 = make_axes(fig, col, 0)
    draw_fmd(ax1, d["fmds"], d["tails"], d["mc"], d["mc_n"], d["colors"], d["labels"], d["letters"][0], first)
    ax2 = make_axes(fig, col, 1)
    draw_pvalue(ax2, d["p"], d["colors"], d["letters"][1], first)
    ax3 = make_axes(fig, col, 2)
    draw_bvalue(ax3, d["b"], d["bands"], d["mc"], d["mc_b"], d["colors"], d["labels"], d["letters"][2], first,
                0.937)

fig.savefig("out.png", dpi=100)
